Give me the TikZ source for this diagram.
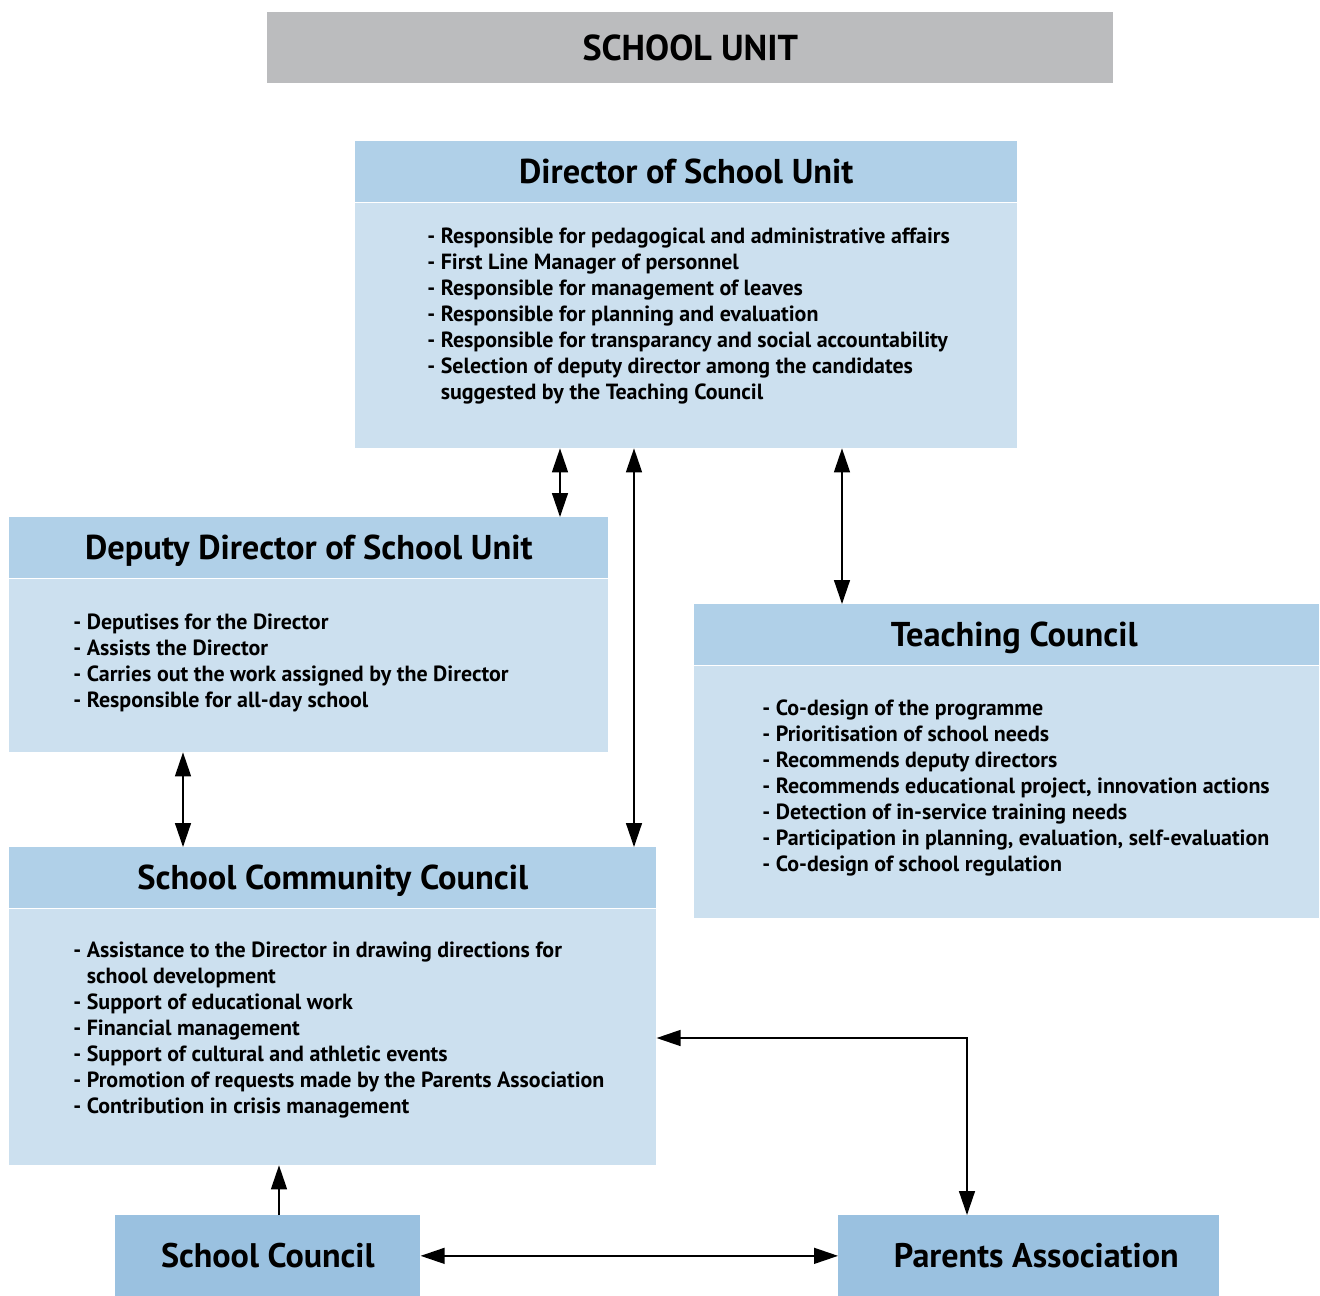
\documentclass[tikz,border=0pt]{standalone}
\usepackage{fontspec}
\setmainfont{PT Sans}
\usetikzlibrary{arrows.meta}

\definecolor{unitgrey}{RGB}{187,188,190}
\definecolor{headblue}{RGB}{176,208,232}
\definecolor{bodyblue}{RGB}{204,224,239}
\definecolor{basisblue}{RGB}{154,193,224}

\begin{document}
\begin{tikzpicture}[
        x = 0.02cm, y = -0.02cm,
        head/.style = {
            fill = headblue,
            minimum width = #1,
            minimum height = 1.22cm,
            inner sep = 0pt,
            text height = 12.8pt,
            text depth = 0pt,
            anchor = north west,
            font = \fontsize{19.6}{21}\selectfont\bfseries
        },
        body/.style = {
            fill = bodyblue,
            minimum width = #1,
            inner sep = 0pt,
            anchor = north
        },
        list/.style = {
            anchor = north west,
            align = left,
            inner sep = 0pt,
            font = \fontsize{12.5}{14.8}\selectfont\bfseries
        },
        basis/.style = {
            fill = basisblue,
            minimum height = 1.62cm,
            inner sep = 0pt,
            text height = 13pt,
            text depth = 0pt,
            anchor = north west,
            font = \fontsize{19.4}{21}\selectfont\bfseries
        },
        link/.style = {
            line width = 0.8pt,
            {Triangle[length=0.48cm, width=0.32cm]}-{Triangle[length=0.48cm, width=0.32cm]}
        },
        uplink/.style = {
            line width = 0.8pt,
            -{Triangle[length=0.48cm, width=0.32cm]}
        }
        ]
    \useasboundingbox (0,0) rectangle (1320,1296);
%
    \node[fill=unitgrey, minimum width=16.92cm, minimum height=1.42cm, inner sep=0pt,
          anchor=north west, font=\fontsize{20.5}{22}\selectfont\bfseries] (unit) at (267,12) {SCHOOL UNIT};
%
    % director
    \node[head=13.24cm] (dir) at (355,141) {Director of School Unit};
    \node[body=13.24cm, minimum height=4.9cm] (dirbody) at (dir.south) {};
    \node[list] (dirlist) at (427,228) {- Responsible for pedagogical and administrative affairs\\
        - First Line Manager of personnel\\
        - Responsible for management of leaves\\
        - Responsible for planning and evaluation\\
        - Responsible for transparancy and social accountability\\
        - Selection of deputy director among the candidates\\
        \hphantom{- }suggested by the Teaching Council};
%
    % deputy director
    \node[head=11.98cm] (dep) at (9,517) {Deputy Director of School Unit};
    \node[body=11.98cm, minimum height=3.46cm] (depbody) at (dep.south) {};
    \node[list] (deplist) at (73,614) {- Deputises for the Director\\
        - Assists the Director\\
        - Carries out the work assigned by the Director\\
        - Responsible for all-day school};
%
    % teaching council
    \node[head=12.5cm] (teach) at (694,604) {\hspace{0.3cm}Teaching Council};
    \node[body=12.5cm, minimum height=5.04cm] (teachbody) at (teach.south) {};
    \node[list] (teachlist) at (762,699) {- Co-design of the programme\\
        - Prioritisation of school needs\\
        - Recommends deputy directors\\
        - Recommends educational project, innovation actions\\
        - Detection of in-service training needs\\
        - Participation in planning, evaluation, self-evaluation\\
        - Co-design of school regulation};
%
    % school community council
    \node[head=12.94cm] (comm) at (9,847) {School Community Council\hspace{0.2cm}};
    \node[body=12.94cm, minimum height=5.12cm] (commbody) at (comm.south) {};
    \node[list] (commlist) at (73,942) {- Assistance to the Director in drawing directions for\\
        \hphantom{- }school development\\
        - Support of educational work\\
        - Financial management\\
        - Support of cultural and athletic events\\
        - Promotion of requests made by the Parents Association\\
        - Contribution in crisis management};
%
    \node[basis, minimum width=6.1cm] (sc) at (115,1215) {School Council};
    \node[basis, minimum width=7.62cm] (pa) at (838,1215) {\hspace{0.3cm}Parents Association};
%
    \coordinate (x1) at (560,0);
    \coordinate (x2) at (634,0);
    \coordinate (x3) at (842,0);
    \coordinate (x4) at (183,0);
    \coordinate (x5) at (279,0);
    \coordinate (x6) at (967,1038);
%
    \draw[link] (dirbody.south -| x1) -- (dep.north -| x1);
    \draw[link] (dirbody.south -| x2) -- (comm.north -| x2);
    \draw[link] (dirbody.south -| x3) -- (teach.north -| x3);
    \draw[link] (depbody.south -| x4) -- (comm.north -| x4);
    \draw[uplink] (sc.north -| x5) -- (commbody.south -| x5);
    \draw[link] (sc.east) -- (pa.west);
    \draw[link] (commbody.east |- x6) -| (pa.north -| x6);
\end{tikzpicture}
\end{document}
